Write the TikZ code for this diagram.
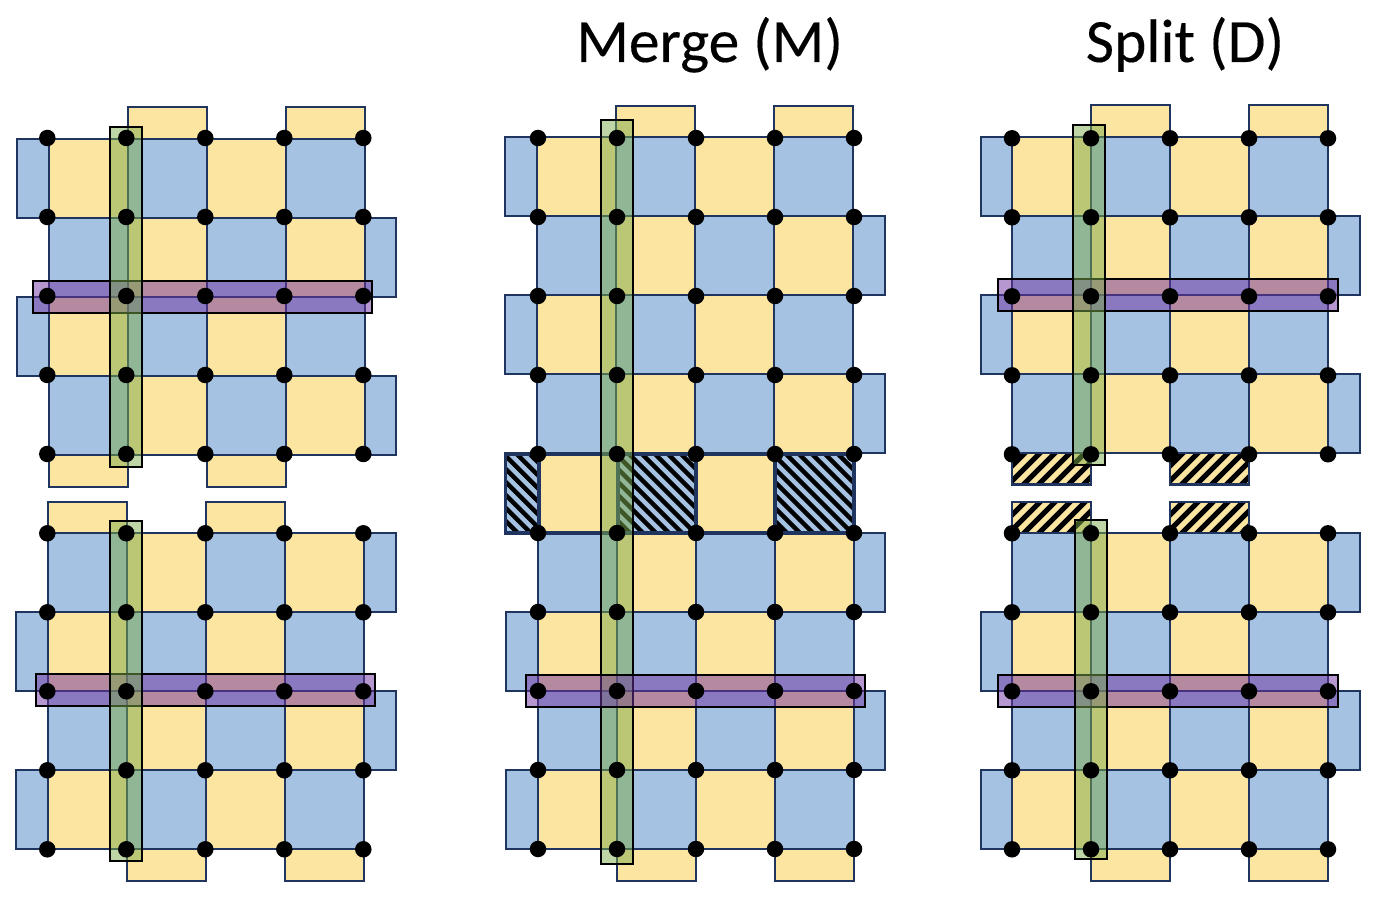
\documentclass[tikz,border=0pt]{standalone}
\usepackage{fontspec}
\setmainfont{Carlito}
\newfontfamily\titlefont[FakeBold=0.25]{Carlito}
\definecolor{qy}{HTML}{FBE5A1}
\definecolor{qb}{HTML}{A5C2E2}
\definecolor{qline}{HTML}{1F3560}
\definecolor{qgreen}{HTML}{7DAB4B}
\definecolor{qpurple}{HTML}{7030A0}
\tikzset{
  cellY/.style={fill=qy,draw=qline,line width=1.2pt},
  cellB/.style={fill=qb,draw=qline,line width=1.2pt},
  thickY/.style={fill=qy,draw=qline,line width=2pt},
  thickB/.style={draw=qline,line width=2pt},
  gbar/.style={fill=qgreen,fill opacity=0.5,draw=black,line width=1.3pt},
  pbar/.style={fill=qpurple,fill opacity=0.5,draw=black,line width=1.3pt},
  qubit/.style={circle,fill=black,inner sep=0pt,minimum size=0.33cm},
  title/.style={font=\titlefont\fontsize{35}{40}\selectfont,anchor=base west,inner sep=0pt}
}
% grid: x0, y0, rows, phase, left tab x, right tab x
\newcommand\qgrid[6]{%
  \foreach \r in {1,...,#3}{%
    \foreach \c in {0,...,3}{%
      \pgfmathtruncatemacro\qpar{mod(\r-1+\c+#4,2)}%
      \pgfmathsetmacro\xa{#1+79*\c}%
      \pgfmathsetmacro\ya{#2+79*(\r-1)}%
      \ifnum\qpar=0
        \draw[cellY] (\xa,\ya) rectangle ++(79,79);
      \else
        \draw[cellB] (\xa,\ya) rectangle ++(79,79);
      \fi
    }%
    \pgfmathtruncatemacro\pl{mod(\r-1+#4,2)}%
    \pgfmathsetmacro\ya{#2+79*(\r-1)}%
    \ifnum\pl=0
      \draw[cellB] (#5,\ya) rectangle (#1,\ya+79);
    \else
      \draw[cellB] (#1+316,\ya) rectangle (#6,\ya+79);
    \fi
  }%
}
% a row of five qubits: x0,y0
\newcommand\qdots[2]{%
  \foreach \c in {0,...,4}{\node[qubit] at (#1+79*\c,#2) {};}%
}
% hatch: x1,y1,x2,y2 ; \ direction blue
\newcommand\hatchB[4]{%
  \fill[qb] (#1,#2) rectangle (#3,#4);
  \begin{scope}
    \clip (#1,#2) rectangle (#3,#4);
    \foreach \s in {-80,-67,...,90}{\draw[black,line width=2.5pt] (#1+\s,#2) -- (#1+\s+80,#2+80);}
  \end{scope}
  \draw[thickB] (#1,#2) rectangle (#3,#4);
}
% hatch: / direction yellow
\newcommand\hatchY[4]{%
  \fill[qy] (#1,#2) rectangle (#3,#4);
  \begin{scope}
    \clip (#1,#2) rectangle (#3,#4);
    \foreach \s in {0,15,...,135}{\draw[black,line width=2.9pt] (#1+\s,#2-2) -- (#1+\s-40,#2+38);}
  \end{scope}
  \draw[qline,line width=1.4pt] (#1,#2) rectangle (#3,#4);
}
\begin{document}
\begin{tikzpicture}[x=0.02cm,y=-0.02cm]
\useasboundingbox (0,0) rectangle (1380,898);

\node[title] (merge) at (576,62) {Merge (M)};
\node[title] (split) at (1085.5,62) {Split (D)};

% ---------- left, top
\draw[cellY] (128,106.7) rectangle (207,139);
\draw[cellY] (286,106.7) rectangle (365,139);
\draw[cellY] (49,455) rectangle (128,486.7);
\draw[cellY] (207,455) rectangle (286,486.7);
\qgrid{49}{139}{4}{0}{16.7}{396}
% ---------- left, bottom
\draw[cellY] (48,502) rectangle (127,533);
\draw[cellY] (206,502) rectangle (285,533);
\draw[cellY] (127,849) rectangle (206,880.7);
\draw[cellY] (285,849) rectangle (364,880.7);
\qgrid{48}{533}{4}{1}{15.7}{396}
% bars left
\draw[pbar] (33,281) rectangle (372,313);
\draw[gbar] (110,127) rectangle (142.3,467);
\draw[pbar] (35.7,673.7) rectangle (375.3,706.3);
\draw[gbar] (110,520.7) rectangle (142,861);

% ---------- middle
\draw[cellY] (616,105.7) rectangle (695,137);
\draw[cellY] (774,105.7) rectangle (853,137);
\qgrid{537}{137}{4}{0}{504.7}{885.3}
\draw[cellY] (617,849) rectangle (696,880.7);
\draw[cellY] (775,849) rectangle (854,880.7);
\qgrid{538}{533}{4}{1}{505.7}{885.3}
\hatchB{505.7}{454}{539}{533}
\hatchB{618}{454}{696}{533}
\hatchB{775}{454}{854}{533}
\draw[thickY] (539,454) rectangle (618,533);
\draw[thickY] (696,454) rectangle (775,533);
\draw[gbar] (600.7,120) rectangle (633,864);
\draw[pbar] (525.7,675) rectangle (865.3,707);

% ---------- right, top
\draw[cellY] (1091,104.7) rectangle (1170,137);
\draw[cellY] (1249,104.7) rectangle (1328,137);
\qgrid{1012}{137}{4}{0}{980.7}{1360.3}
\hatchY{1012}{453}{1091}{484.7}
\hatchY{1170}{453}{1249}{484.7}
% ---------- right, bottom
\hatchY{1012}{502}{1091}{533}
\hatchY{1170}{502}{1249}{533}
\draw[cellY] (1091,849) rectangle (1170,880.7);
\draw[cellY] (1249,849) rectangle (1328,880.7);
\qgrid{1012}{533}{4}{1}{980.7}{1360.3}
% bars right
\draw[pbar] (998,279) rectangle (1338,310.7);
\draw[gbar] (1072.7,124.7) rectangle (1105,465);
\draw[pbar] (998,674.7) rectangle (1338,707);
\draw[gbar] (1075,520) rectangle (1107.3,859);

% ---------- qubits
\foreach \y in {138,217,296,375,454}{\qdots{47.3}{\y}}
\foreach \y in {533.3,612.3,691.3,770.3,849.3}{\qdots{47.3}{\y}}
\foreach \y in {138,217,296,375,454,533,612,691,770,849}{\qdots{538}{\y}}
\foreach \y in {138.3,217.3,296.3,375.3,454.3,533.3,612.3,691.3,770.3,849.3}{\qdots{1012}{\y}}
\end{tikzpicture}
\end{document}
